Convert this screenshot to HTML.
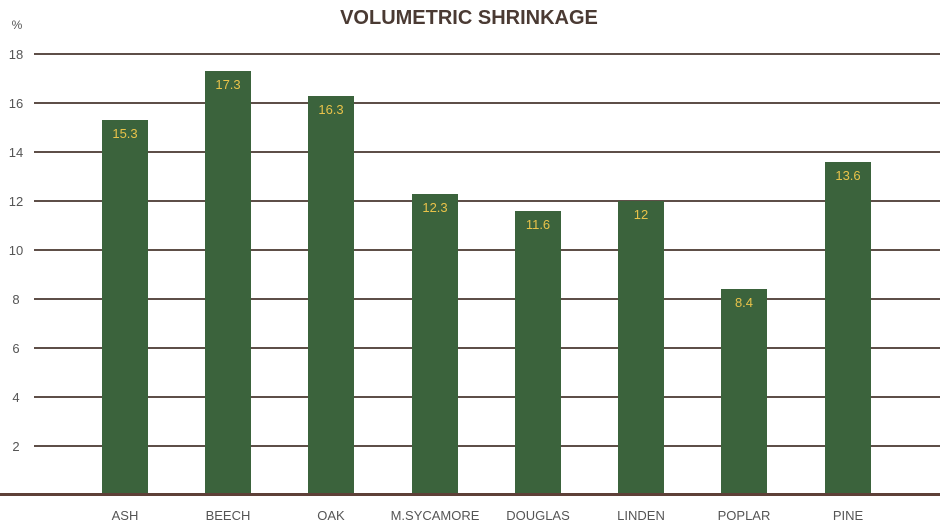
<!DOCTYPE html><html><head><style>body{margin:0;background:#fff}</style></head><body>
<svg width="940" height="527" xmlns="http://www.w3.org/2000/svg" font-family="Liberation Sans, sans-serif">
<rect width="940" height="527" fill="#fff"/>
<text x="469" y="24" text-anchor="middle" font-size="20" font-weight="bold" fill="#4a3a33">VOLUMETRIC SHRINKAGE</text>
<text x="17" y="29" text-anchor="middle" font-size="12" fill="#555">%</text>
<g stroke="#5e4f48" stroke-width="2">
<line x1="34" x2="940" y1="54" y2="54"/><line x1="34" x2="940" y1="103" y2="103"/>
<line x1="34" x2="940" y1="152" y2="152"/><line x1="34" x2="940" y1="201" y2="201"/>
<line x1="34" x2="940" y1="250" y2="250"/><line x1="34" x2="940" y1="299" y2="299"/>
<line x1="34" x2="940" y1="348" y2="348"/><line x1="34" x2="940" y1="397" y2="397"/>
<line x1="34" x2="940" y1="446" y2="446"/>
</g>
<g font-size="13" fill="#555" text-anchor="middle">
<text x="16" y="59">18</text><text x="16" y="108">16</text><text x="16" y="157">14</text><text x="16" y="206">12</text><text x="16" y="255">10</text><text x="16" y="304">8</text><text x="16" y="353">6</text><text x="16" y="402">4</text><text x="16" y="451">2</text>
</g>
<g fill="#3b633c">
<rect x="102" y="120" width="46" height="375"/>
<rect x="205" y="71" width="46" height="424"/>
<rect x="308" y="96" width="46" height="399"/>
<rect x="412" y="194" width="46" height="301"/>
<rect x="515" y="211" width="46" height="284"/>
<rect x="618" y="201" width="46" height="294"/>
<rect x="721" y="289" width="46" height="206"/>
<rect x="825" y="162" width="46" height="333"/>
</g>
<line x1="0" x2="940" y1="494.5" y2="494.5" stroke="#5e4038" stroke-width="3"/>
<g font-size="13" fill="#e8c24a" text-anchor="middle">
<text x="125" y="138">15.3</text><text x="228" y="89">17.3</text><text x="331" y="114">16.3</text><text x="435" y="212">12.3</text><text x="538" y="229">11.6</text><text x="641" y="219">12</text><text x="744" y="307">8.4</text><text x="848" y="180">13.6</text>
</g>
<g font-size="13" fill="#555" text-anchor="middle">
<text x="125" y="520">ASH</text><text x="228" y="520">BEECH</text><text x="331" y="520">OAK</text><text x="435" y="520">M.SYCAMORE</text><text x="538" y="520">DOUGLAS</text><text x="641" y="520">LINDEN</text><text x="744" y="520">POPLAR</text><text x="848" y="520">PINE</text>
</g>
</svg></body></html>
